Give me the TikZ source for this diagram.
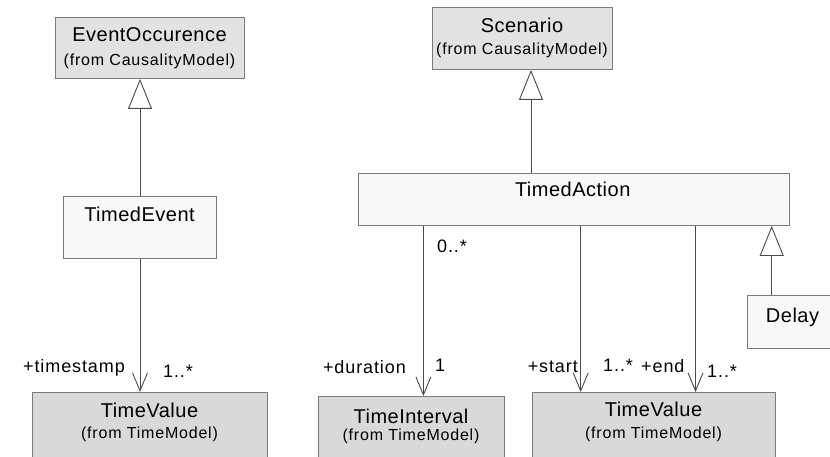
\documentclass[tikz,border=0pt]{standalone}
\usepackage{fontspec}
\setmainfont{Liberation Sans}
\newfontfamily\titlefont[LetterSpace=2.5]{Liberation Sans}
\newfontfamily\subfont[LetterSpace=5]{Liberation Sans}
\newfontfamily\labfont[LetterSpace=5]{Liberation Sans}
\usetikzlibrary{arrows.meta}
\definecolor{topgray}{HTML}{E2E2E2}
\definecolor{botgray}{HTML}{D9D9D9}
\definecolor{whitebox}{HTML}{F8F8F8}
\definecolor{edgegray}{HTML}{7A7A7A}
\definecolor{linegray}{HTML}{4A4A4A}
\tikzset{
  box/.style={draw=edgegray, line width=0.9pt, rectangle, inner sep=0pt, anchor=north west},
  grayA/.style={box, fill=topgray},
  grayB/.style={box, fill=botgray},
  plain/.style={box, fill=whitebox},
  ttl/.style={anchor=base, inner sep=0pt, font=\titlefont\fontsize{20}{24}\selectfont},
  sub/.style={anchor=base, inner sep=0pt, font=\subfont\fontsize{16}{19}\selectfont},
  lab/.style={anchor=base, inner sep=0pt, font=\labfont\fontsize{18}{21}\selectfont},
  gen/.style={draw=linegray, line width=0.9pt, -{Triangle[open, length=30pt, width=24pt, fill=white]}},
  assoc/.style={draw=linegray, line width=0.9pt, -{Straight Barb[length=18pt, width=15pt]}}
}
\begin{document}
\begin{tikzpicture}[x=1pt, y=-1pt]
\useasboundingbox (0,0) rectangle (830,457);
\clip (0,0) rectangle (830,457);
\fill[white] (0,0) rectangle (830,457);
% boxes
\node[grayA, minimum width=189pt, minimum height=61pt] (eo) at (55,17) {};
\node[grayA, minimum width=180pt, minimum height=62pt] (sc) at (432,7) {};
\node[plain, minimum width=153pt, minimum height=62pt] (te) at (63,196) {};
\node[plain, minimum width=431pt, minimum height=52pt] (ta) at (357.5,173) {};
\node[plain, minimum width=91pt, minimum height=53pt] (de) at (747,295) {};
\node[grayB, minimum width=235pt, minimum height=80pt] (tv1) at (32,392) {};
\node[grayB, minimum width=186pt, minimum height=76pt] (ti) at (318,396) {};
\node[grayB, minimum width=243pt, minimum height=80pt] (tv2) at (532,392) {};
% texts
\node[ttl] (eoT) at (149.5,42) {EventOccurence};
\node[sub] (eoS) at (149.5,66) {(from CausalityModel)};
\node[ttl] (scT) at (522,33) {Scenario};
\node[sub] (scS) at (522,55) {(from CausalityModel)};
\node[ttl] (teT) at (139.5,222) {TimedEvent};
\node[ttl] (taT) at (572.7,197) {TimedAction};
\node[ttl] (deT) at (792.5,322) {Delay};
\node[ttl] (tv1T) at (149.5,417) {TimeValue};
\node[sub] (tv1S) at (149.5,438) {(from TimeModel)};
\node[ttl] (tiT) at (411,423) {TimeInterval};
\node[sub] (tiS) at (411,440) {(from TimeModel)};
\node[ttl] (tv2T) at (653.5,416) {TimeValue};
\node[sub] (tv2S) at (653.5,438) {(from TimeModel)};
% connector anchor coordinates
\coordinate (g1a) at (140,0);
\coordinate (g2a) at (531,0);
\coordinate (g3a) at (771.7,0);
\coordinate (a1) at (423.4,0);
\coordinate (a2) at (580.7,0);
\coordinate (a3) at (695.5,0);
% generalizations
\draw[gen] (te.north -| g1a) -- (eo.south -| g1a);
\draw[gen] (ta.north -| g2a) -- (sc.south -| g2a);
\draw[gen] (de.north -| g3a) -- (ta.south -| g3a);
% associations
\draw[assoc] (te.south -| g1a) -- (tv1.north -| g1a);
\draw[assoc] (ta.south -| a1) -- (ti.north -| a1);
\draw[assoc] (ta.south -| a2) -- (tv2.north -| a2);
\draw[assoc] (ta.south -| a3) -- (tv2.north -| a3);
% role labels and multiplicities
\node[lab, anchor=base east] (l1) at (125,372) {+timestamp};
\node[lab, anchor=base west] (m1) at (163,377) {1..*};
\node[lab, anchor=base west] (m2) at (437,252) {0..*};
\node[lab, anchor=base east] (l2) at (406,373) {+duration};
\node[lab, anchor=base west] (m3) at (435,371) {1};
\node[lab, anchor=base east] (l3) at (578,372) {+start};
\node[lab, anchor=base west] (m4) at (603,371) {1..*};
\node[lab, anchor=base west] (l4) at (641,372) {+end};
\node[lab, anchor=base west] (m5) at (707,377) {1..*};
\end{tikzpicture}
\end{document}
